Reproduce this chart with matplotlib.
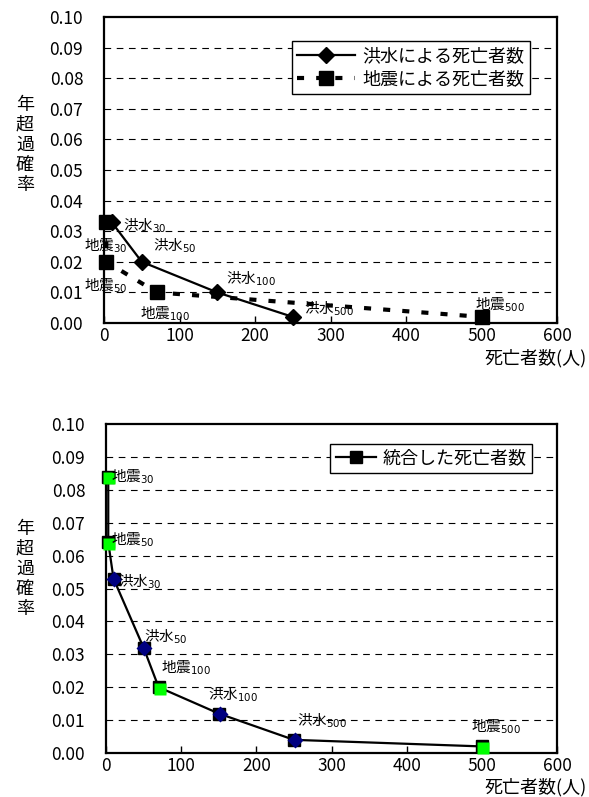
import matplotlib
matplotlib.use("Agg")
import matplotlib.pyplot as plt

plt.rcParams['font.family'] = ['Noto Sans CJK JP', 'DejaVu Sans']
plt.rcParams['mathtext.fontset'] = 'dejavusans'

# top chart: flood / earthquake
flood_x = [10, 50, 150, 250]
flood_p = [0.033, 0.020, 0.010, 0.002]
flood_lbl = ['洪水$_{30}$', '洪水$_{50}$', '洪水$_{100}$', '洪水$_{500}$']

quake_x = [3, 3, 70, 500]
quake_p = [0.033, 0.020, 0.010, 0.002]
quake_lbl = ['地震$_{30}$', '地震$_{50}$', '地震$_{100}$', '地震$_{500}$']

# bottom chart: combined
comb_x = [3, 3, 10, 50, 70, 150, 250, 500]
comb_p = [0.084, 0.064, 0.053, 0.032, 0.020, 0.012, 0.004, 0.002]
comb_lbl = ['地震$_{30}$', '地震$_{50}$', '洪水$_{30}$', '洪水$_{50}$',
            '地震$_{100}$', '洪水$_{100}$', '洪水$_{500}$', '地震$_{500}$']
comb_kind = ['q', 'q', 'f', 'f', 'q', 'f', 'f', 'q']

yticks = [0.00, 0.01, 0.02, 0.03, 0.04, 0.05, 0.06, 0.07, 0.08, 0.09, 0.10]
xticks = [0, 100, 200, 300, 400, 500, 600]

fig = plt.figure(figsize=(5.89, 7.97), dpi=100)
W, H = 589, 797
ax1 = fig.add_axes([104 / W, 1 - 323 / H, 453 / W, 306 / H])
ax2 = fig.add_axes([106 / W, 1 - 753 / H, 451 / W, 329 / H])


def style(ax, ylab_y, xlab_y):
    ax.set_xlim(0, 600)
    ax.set_ylim(0, 0.10)
    ax.set_xticks(xticks)
    ax.set_yticks(yticks)
    ax.set_yticklabels(['%.2f' % v for v in yticks])
    ax.tick_params(axis='x', direction='in', length=5, width=1, pad=3, labelsize=12.5)
    ax.tick_params(axis='y', direction='out', length=0, pad=15, labelsize=12.5)
    for v in yticks[1:-1]:
        ax.axhline(v, color='black', lw=0.8, ls=(0, (6, 5)), zorder=0)
    for s in ax.spines.values():
        s.set_linewidth(1.6)
    fig.text(587 / W, 1 - xlab_y / H, '死亡者数(人)', fontsize=13,
             ha='right', va='center')
    fig.text(25 / W, 1 - ylab_y / H, '年\n超\n過\n確\n率',
             fontsize=13, ha='center', va='center', linespacing=1.15)


style(ax1, 145, 358)
ax1.plot(flood_x, flood_p, color='black', lw=1.6, marker='D', ms=8,
         label='洪水による死亡者数', zorder=3, clip_on=False)
ax1.plot(quake_x, quake_p, color='black', lw=3, dashes=(1.7, 2.9), marker='s', ms=10,
         label='地震による死亡者数', zorder=2, clip_on=False)

flood_off = [(8, -2, 'left'), (8, 12, 'left'), (6, 10, 'left'), (8, 6, 'left')]
for x, y, t, (dx, dy, ha) in zip(flood_x, flood_p, flood_lbl, flood_off):
    ax1.annotate(t, (x, y), xytext=(dx, dy), textcoords='offset points',
                 fontsize=10.5, ha=ha, va='center', zorder=5)
quake_off = [(0, -17, 'center'), (0, -17, 'center'), (6, -15, 'center'), (-5, 9, 'left')]
for x, y, t, (dx, dy, ha) in zip(quake_x, quake_p, quake_lbl, quake_off):
    ax1.annotate(t, (x, y), xytext=(dx, dy), textcoords='offset points',
                 fontsize=10.5, ha=ha, va='center', zorder=5)

ax1.legend(loc='upper right', bbox_to_anchor=(0.94, 0.92), fontsize=13,
           frameon=True, fancybox=False, edgecolor='black', framealpha=1,
           handlelength=3.2, borderpad=0.3, labelspacing=0.3, handletextpad=0.4,
           borderaxespad=0)

style(ax2, 569, 787)
ax2.plot(comb_x, comb_p, color='black', lw=1.6, marker='s', ms=9,
         label='統合した死亡者数', zorder=3, clip_on=False)
for x, y, k in zip(comb_x, comb_p, comb_kind):
    if k == 'q':
        ax2.plot([x + 1.5], [y - 0.0005], marker='s', ms=9, color='#00ff00',
                 mec='none', zorder=4, clip_on=False)
    else:
        ax2.plot([x + 1], [y], marker='D', ms=8.5, color='#000080',
                 mec='none', zorder=4, clip_on=False)

comb_off = [(2, 0, 'left'), (2, 2, 'left'), (3, -2, 'left'), (0, 8, 'left'),
            (2, 14, 'left'), (-8, 14, 'left'), (2, 14, 'left'), (-8, 14, 'left')]
for x, y, t, (dx, dy, ha) in zip(comb_x, comb_p, comb_lbl, comb_off):
    ax2.annotate(t, (x, y), xytext=(dx, dy), textcoords='offset points',
                 fontsize=10.5, ha=ha, va='center', zorder=5)

ax2.legend(loc='upper right', bbox_to_anchor=(0.945, 0.94), fontsize=13,
           frameon=True, fancybox=False, edgecolor='black', framealpha=1,
           handlelength=2.2, borderpad=0.3, handletextpad=0.4, borderaxespad=0)

fig.savefig('out.png', dpi=100)
